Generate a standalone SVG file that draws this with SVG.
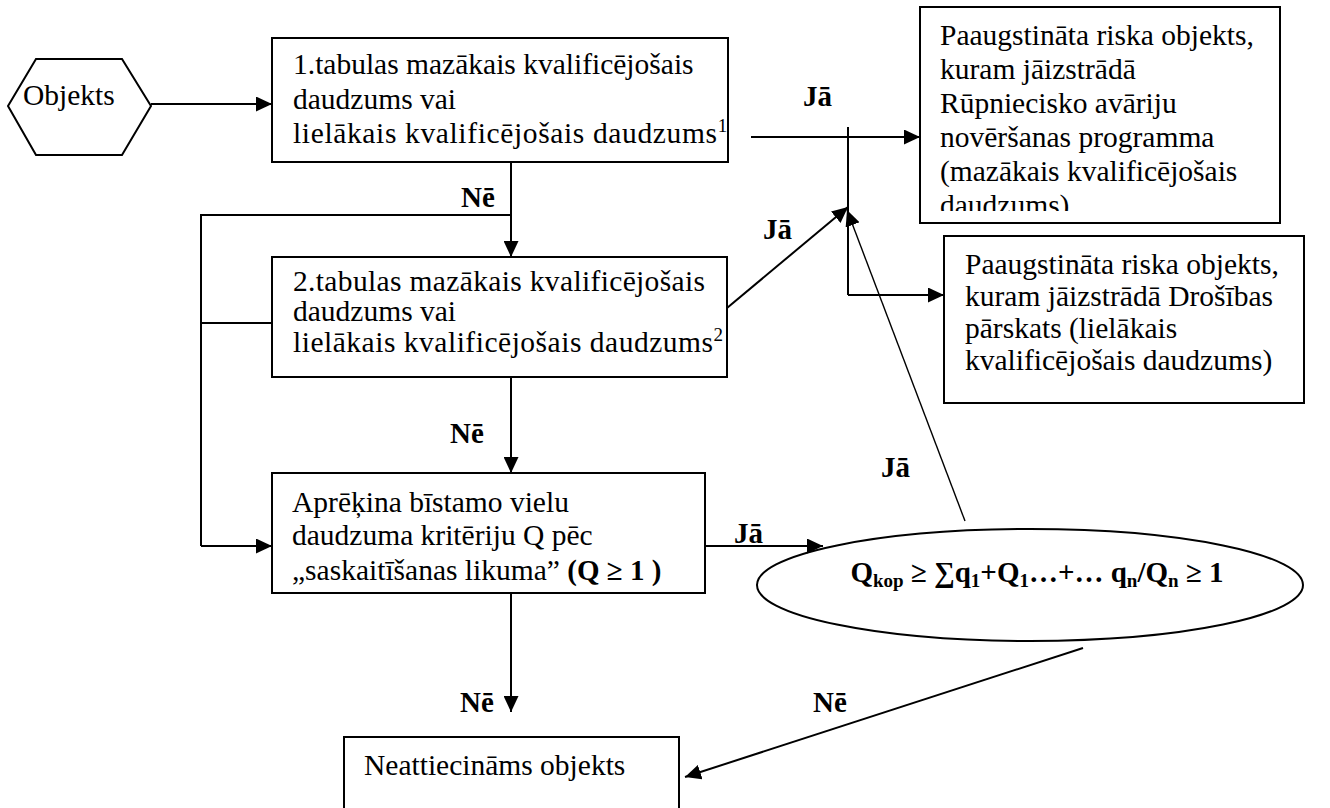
<svg xmlns="http://www.w3.org/2000/svg" width="1330" height="808" viewBox="0 0 1330 808">
<style>
.t{font-family:"Liberation Serif","Times New Roman",serif;font-size:29.5px;fill:#000}
.b{font-family:"Liberation Serif","Times New Roman",serif;font-size:29px;font-weight:bold;fill:#000}
.box{fill:#fff;stroke:#000;stroke-width:2}
.ln{stroke:#000;stroke-width:2;fill:none}
.thin{stroke:#000;stroke-width:1.4;fill:none}
.sup{font-size:19px}
</style>
<defs>
<marker id="ah" markerUnits="userSpaceOnUse" markerWidth="16" markerHeight="15" refX="16" refY="7.5" orient="auto" viewBox="0 0 16 15">
<path d="M0,0 L16,7.5 L0,15 z" fill="#000"/>
</marker>
<clipPath id="c1"><rect x="920" y="7" width="360" height="204"/></clipPath>
</defs>

<g id="n-objekts">
<polygon class="box" points="8,106 36,59 122,59 151,106 122,155 36,155"/>
<text class="t" x="23" y="105">Objekts</text>
</g>

<g id="n-box1">
<rect class="box" x="272" y="38" width="456" height="124"/>
<text class="t" x="293" y="74">1.tabulas mazākais kvalificējošais</text>
<text class="t" x="293" y="109">daudzums vai</text>
<text class="t" x="293" y="143"><tspan textLength="424" lengthAdjust="spacing">lielākais kvalificējošais daudzums</tspan><tspan class="sup" dy="-11">1</tspan></text>
</g>

<g id="n-box2">
<rect class="box" x="272" y="257" width="455" height="120"/>
<text class="t" x="293" y="291"><tspan textLength="412" lengthAdjust="spacing">2.tabulas mazākais kvalificējošais</tspan></text>
<text class="t" x="293" y="321">daudzums vai</text>
<text class="t" x="293" y="352"><tspan textLength="420" lengthAdjust="spacing">lielākais kvalificējošais daudzums</tspan><tspan class="sup" dy="-11">2</tspan></text>
</g>

<g id="n-box3">
<rect class="box" x="272" y="473" width="433" height="120"/>
<text class="t" x="292" y="512">Aprēķina bīstamo vielu</text>
<text class="t" x="292" y="545">daudzuma kritēriju Q pēc</text>
<text class="t" x="292" y="580">„saskaitīšanas likuma” <tspan class="b">(Q ≥ 1 )</tspan></text>
</g>

<g id="n-r1">
<rect class="box" x="920" y="7" width="360" height="216"/>
<g clip-path="url(#c1)">
<text class="t" x="940" y="45">Paaugstināta riska objekts,</text>
<text class="t" x="940" y="79">kuram jāizstrādā</text>
<text class="t" x="940" y="113">Rūpniecisko avāriju</text>
<text class="t" x="940" y="147">novēršanas programma</text>
<text class="t" x="940" y="181">(mazākais kvalificējošais</text>
<text class="t" x="940" y="215">daudzums)</text>
</g>
</g>

<g id="n-r2">
<rect class="box" x="944" y="236" width="360" height="167"/>
<text class="t" x="965" y="274">Paaugstināta riska objekts,</text>
<text class="t" x="965" y="306">kuram jāizstrādā Drošības</text>
<text class="t" x="965" y="338">pārskats (lielākais</text>
<text class="t" x="965" y="370">kvalificējošais daudzums)</text>
</g>

<g id="n-ellipse">
<ellipse class="box" cx="1030" cy="585" rx="273" ry="56"/>
<text class="b" x="1037" y="582" text-anchor="middle">Q<tspan class="sup" dy="5">kop</tspan><tspan dy="-5"> ≥ ∑q</tspan><tspan class="sup" dy="5">1</tspan><tspan dy="-5">+Q</tspan><tspan class="sup" dy="5">1</tspan><tspan dy="-5">…+… q</tspan><tspan class="sup" dy="5">n</tspan><tspan dy="-5">/Q</tspan><tspan class="sup" dy="5">n</tspan><tspan dy="-5"> ≥ 1</tspan></text>
</g>

<g id="n-neatt">
<rect class="box" x="344" y="737" width="335" height="110"/>
<text class="t" x="364" y="775">Neattiecināms objekts</text>
</g>

<g id="connectors">
<line class="ln" x1="151" y1="104" x2="272" y2="104" marker-end="url(#ah)"/>
<line class="ln" x1="751" y1="137" x2="920" y2="137" marker-end="url(#ah)"/>
<line class="ln" x1="848" y1="127" x2="848" y2="295"/>
<line class="ln" x1="848" y1="295" x2="944" y2="295" marker-end="url(#ah)"/>
<line class="ln" x1="511" y1="162" x2="511" y2="257" marker-end="url(#ah)"/>
<polyline class="ln" points="511,215 201,215 201,546"/>
<line class="ln" x1="201" y1="323" x2="272" y2="323"/>
<line class="ln" x1="201" y1="546" x2="272" y2="546" marker-end="url(#ah)"/>
<line class="ln" x1="511" y1="377" x2="511" y2="473" marker-end="url(#ah)"/>
<line class="ln" x1="727" y1="308" x2="848" y2="207" marker-end="url(#ah)"/>
<line class="thin" x1="965" y1="521" x2="847" y2="210" marker-end="url(#ah)"/>
<line class="ln" x1="705" y1="546" x2="823" y2="546" marker-end="url(#ah)"/>
<line class="ln" x1="511" y1="593" x2="511" y2="712" marker-end="url(#ah)"/>
<line class="ln" x1="1083" y1="648" x2="685" y2="777" marker-end="url(#ah)"/>
<text class="b" x="803" y="106">Jā</text>
<text class="b" x="461" y="207">Nē</text>
<text class="b" x="763" y="239">Jā</text>
<text class="b" x="450" y="443">Nē</text>
<text class="b" x="881" y="477">Jā</text>
<text class="b" x="734" y="543">Jā</text>
<text class="b" x="460" y="712">Nē</text>
<text class="b" x="813" y="712">Nē</text>
</g>
</svg>
